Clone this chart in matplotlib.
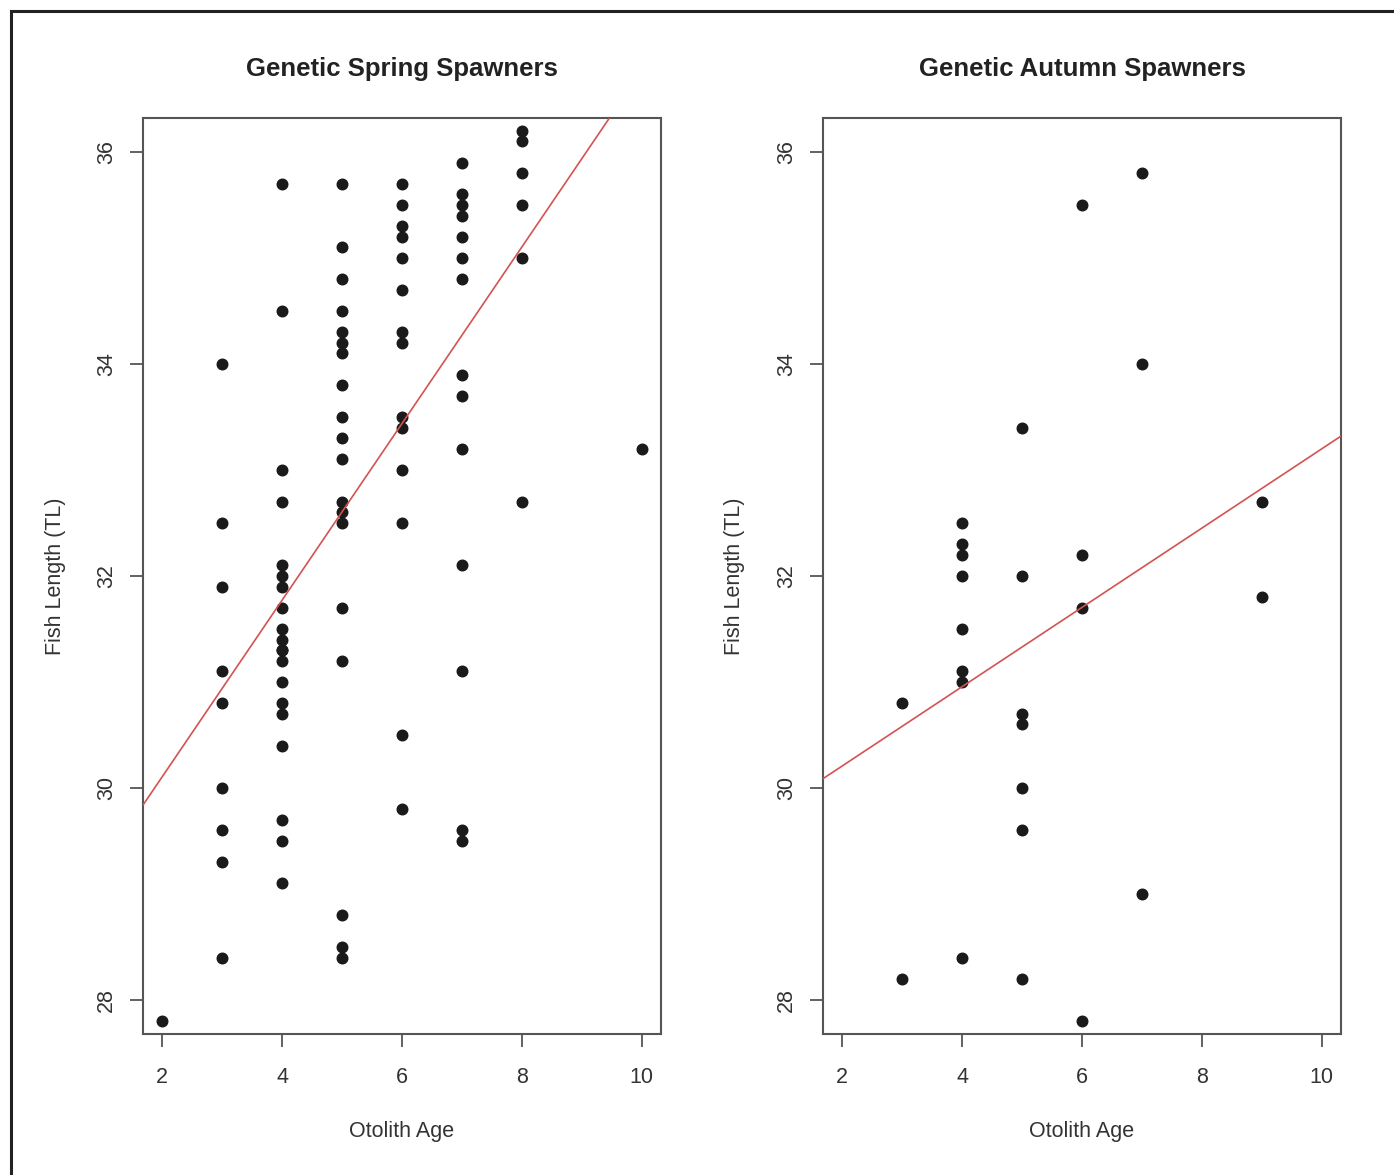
import numpy as np
import matplotlib
matplotlib.use("Agg")
import matplotlib.pyplot as plt
from matplotlib.lines import Line2D

plt.rcParams['font.family'] = ['Liberation Sans', 'DejaVu Sans']

# ---- Data: Genetic Spring Spawners (otolith age -> fish length TL) ----
spring_age2 = [27.8]
spring_age3 = [34.0, 32.5, 31.9, 31.1, 30.8, 30.0, 29.6, 29.3, 28.4]
spring_age4 = [35.7, 34.5, 33.0, 32.7, 32.1, 32.0, 31.9, 31.7, 31.5, 31.4,
               31.3, 31.3, 31.2, 31.0, 30.8, 30.7, 30.4, 29.7, 29.5, 29.1]
spring_age5 = [35.7, 35.1, 34.8, 34.5, 34.3, 34.2, 34.1, 33.8, 33.5, 33.3,
               33.1, 32.7, 32.6, 32.5, 31.7, 31.2, 28.8, 28.5, 28.4]
spring_age6 = [35.7, 35.5, 35.3, 35.2, 35.0, 34.7, 34.3, 34.2, 33.5, 33.4,
               33.0, 32.5, 30.5, 29.8]
spring_age7 = [35.9, 35.6, 35.5, 35.4, 35.2, 35.0, 34.8, 33.9, 33.7, 33.2,
               32.1, 31.1, 29.6, 29.5]
spring_age8 = [36.2, 36.1, 35.8, 35.5, 35.0, 32.7]
spring_age10 = [33.2]

# ---- Data: Genetic Autumn Spawners ----
autumn_age3 = [30.8, 28.2]
autumn_age4 = [32.5, 32.3, 32.2, 32.0, 31.5, 31.1, 31.0, 28.4]
autumn_age5 = [33.4, 32.0, 30.7, 30.6, 30.0, 29.6, 28.2]
autumn_age6 = [35.5, 32.2, 31.7, 27.8]
autumn_age7 = [35.8, 34.0, 29.0]
autumn_age9 = [32.7, 31.8]

# Regression lines (intercept, slope)
spring_fit = (28.44, 0.833)
autumn_fit = (29.46, 0.374)

titles = ["Genetic Spring Spawners", "Genetic Autumn Spawners"]
xlabel = "Otolith Age"
ylabel = "Fish Length (TL)"
xticks = [2, 4, 6, 8, 10]
yticks = [28, 30, 32, 34, 36]

def build(groups):
    xs, ys = [], []
    for age, vals in groups:
        xs += [age] * len(vals)
        ys += vals
    return np.array(xs, float), np.array(ys, float)

spring_x, spring_y = build([(2, spring_age2), (3, spring_age3), (4, spring_age4),
                            (5, spring_age5), (6, spring_age6), (7, spring_age7),
                            (8, spring_age8), (10, spring_age10)])
autumn_x, autumn_y = build([(3, autumn_age3), (4, autumn_age4), (5, autumn_age5),
                            (6, autumn_age6), (7, autumn_age7), (9, autumn_age9)])

W, H = 1394, 1175
fig = plt.figure(figsize=(W / 100, H / 100), dpi=100)
fig.patch.set_facecolor('white')

txt_col = '#333333'
box_col = '#555555'

def px_axes(x0, y0, x1, y1):
    return [x0 / W, 1 - y1 / H, (x1 - x0) / W, (y1 - y0) / H]

axes = [fig.add_axes(px_axes(143, 118, 661, 1034)),
        fig.add_axes(px_axes(823, 118, 1341, 1034))]

datasets = [(spring_x, spring_y, spring_fit), (autumn_x, autumn_y, autumn_fit)]

for ax, (x, y, fit), title in zip(axes, datasets, titles):
    xlim = (2 - 0.32, 10 + 0.32)
    ax.set_xlim(*xlim)
    ax.set_ylim(28 - 0.32, 36 + 0.32)
    ax.plot(x, y, 'o', color='#1a1a1a', ms=7.6, mec='#1a1a1a', zorder=3)
    intercept, slope = fit
    ax.axline((0, intercept), slope=slope, color='#d45252', lw=1.2, zorder=4)

    for sp in ax.spines.values():
        sp.set_color(box_col)
        sp.set_linewidth(1.5)
    ax.set_xticks(xticks)
    ax.set_yticks(yticks)
    ax.set_xticklabels([str(t) for t in xticks])
    ax.set_yticklabels([str(t) for t in yticks], rotation=90, va='center')
    ax.tick_params(axis='both', direction='out', length=9.5, width=1.3,
                   color=box_col, labelsize=15.5, labelcolor=txt_col)
    ax.tick_params(axis='x', pad=14)
    ax.tick_params(axis='y', pad=9)

    ax.set_title(title, fontsize=18.5, fontweight='bold', color='#222222',
                 y=(1034 - 69) / 916, pad=0, va='center')
    ax.set_xlabel(xlabel, fontsize=15.5, color=txt_col)
    ax.xaxis.set_label_coords(0.5, (1034 - 1131) / 916)
    ax.xaxis.label.set_verticalalignment('center')
    ax.set_ylabel(ylabel, fontsize=15.5, color=txt_col)
    ax.yaxis.set_label_coords((55 - 143) / 518, 0.5)
    ax.yaxis.label.set_verticalalignment('center')

# figure frame (left and top edges visible in the reference)
fig.add_artist(Line2D([10.5 / W, 10.5 / W], [0, 1 - 11 / H], transform=fig.transFigure,
                      color='#222222', lw=2.2))
fig.add_artist(Line2D([10.5 / W, 1], [1 - 11 / H, 1 - 11 / H], transform=fig.transFigure,
                      color='#222222', lw=2.2))

fig.savefig("out.png", dpi=100)
